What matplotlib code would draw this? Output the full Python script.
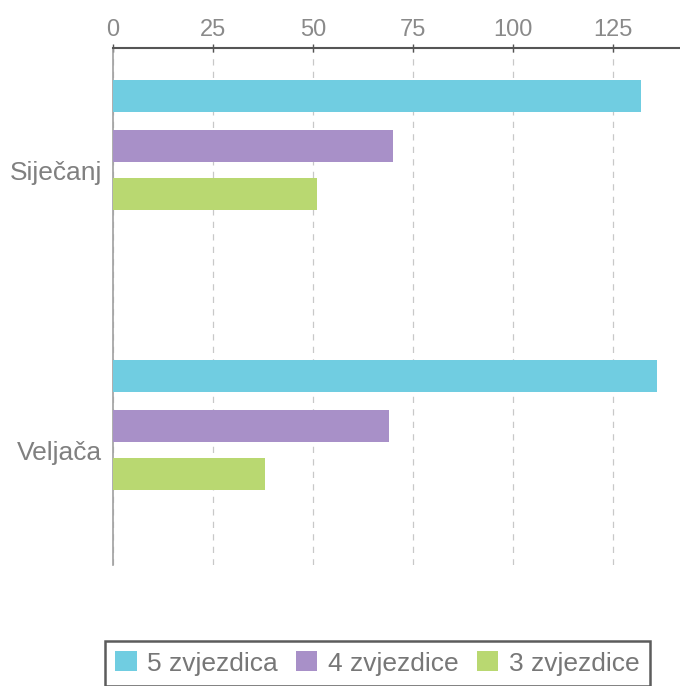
"""Horizontal grouped bars: hotel ratings by month."""

import matplotlib.pyplot as plt
import numpy as np
from matplotlib.patches import Patch

months = ["Siječanj", "Veljača"]
series_names = ["5 zvjezdica", "4 zvjezdice", "3 zvjezdice"]
five_stars = [132, 136]
four_stars = [70, 69]
three_stars = [51, 38]
x_ticks = [0, 25, 50, 75, 100, 125]

colors = ["#70cde1", "#a890c8", "#b9d871"]
offsets = [-0.264, -0.0875, 0.0857]
bar_h = 0.114

plt.rcParams["font.family"] = ["Liberation Sans", "DejaVu Sans"]

fig = plt.figure(figsize=(6.8, 6.86), dpi=100)
ax = fig.add_axes([0.166, 0.176, 0.834, 0.754])

pos = np.arange(len(months))
for vals, off, c in zip([five_stars, four_stars, three_stars], offsets, colors):
    ax.barh(pos + off, vals, height=bar_h, color=c, zorder=3)

ax.set_xlim(0, 141.75)
ax.set_ylim(1.411, -0.436)

ax.xaxis.tick_top()
ax.set_xticks(x_ticks)
ax.set_xticklabels([str(t) for t in x_ticks])
ax.tick_params(axis="x", direction="inout", length=6, width=1, color="#555555",
               labelsize=17, labelcolor="#8a8a8a", pad=2)
ax.set_yticks(pos)
ax.set_yticklabels(months)
ax.tick_params(axis="y", length=0, labelsize=19, labelcolor="#808080", pad=8)

ax.grid(axis="x", linestyle=(0, (5, 5)), color="#c8c8c8", linewidth=0.9, zorder=0)
for s in ["right", "bottom"]:
    ax.spines[s].set_visible(False)
ax.spines["top"].set_color("#555555")
ax.spines["top"].set_linewidth(1.5)
ax.spines["left"].set_color("#a0a0a0")
ax.spines["left"].set_linewidth(1.2)

handles = [Patch(facecolor=c, edgecolor="none") for c in colors]
leg = fig.legend(handles, series_names, loc="upper center",
                 bbox_to_anchor=(0.555, 0.066), ncol=3, frameon=True,
                 fancybox=False, fontsize=19, handlelength=0.8, handleheight=0.8,
                 handletextpad=0.4, columnspacing=0.7, borderpad=0.4,
                 borderaxespad=0)
leg.get_frame().set_edgecolor("#333333")
leg.get_frame().set_linewidth(1.8)
for t in leg.get_texts():
    t.set_color("#777777")

fig.savefig("out.png", dpi=100)
